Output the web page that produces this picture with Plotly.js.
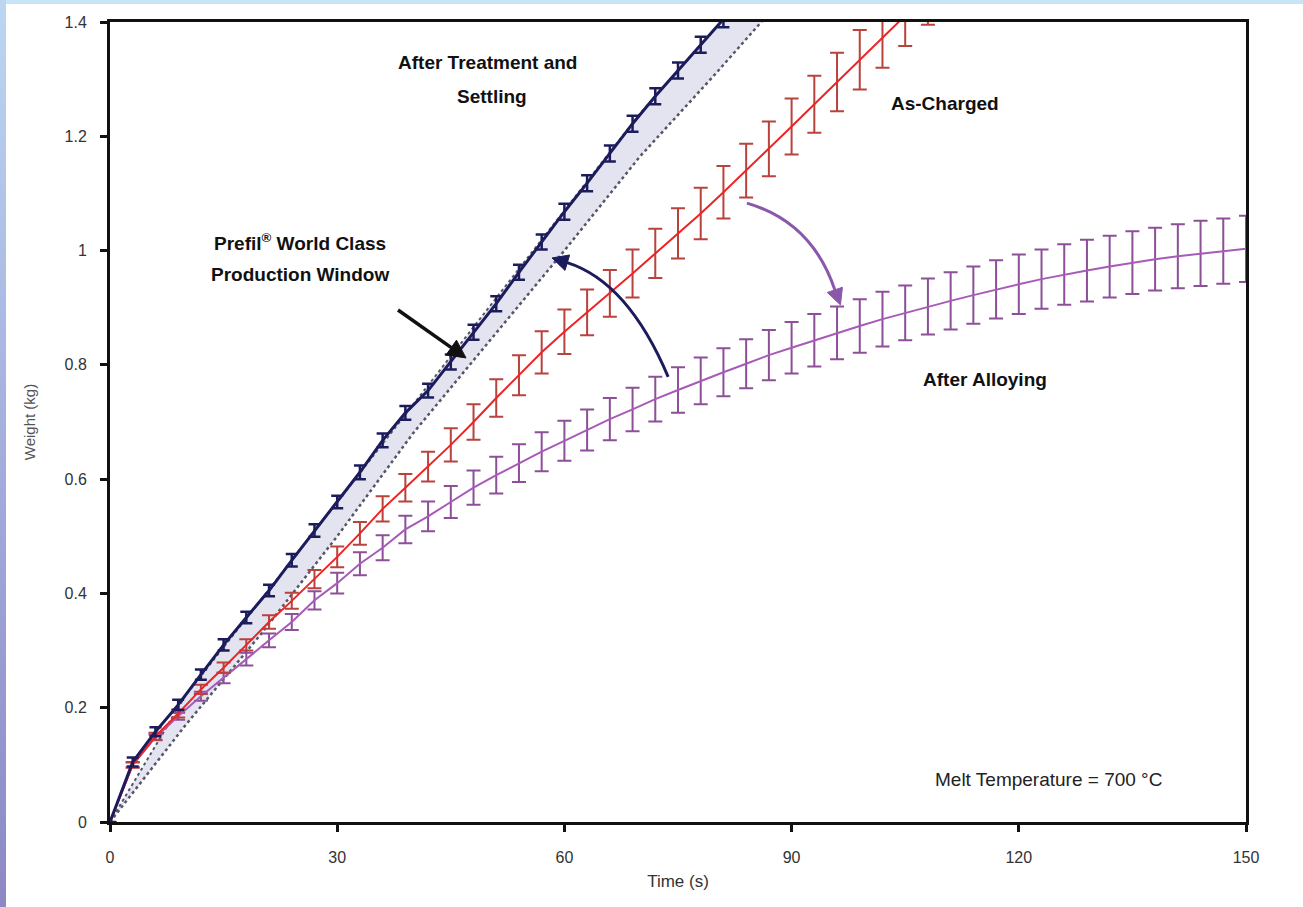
<!DOCTYPE html>
<html>
<head>
<meta charset="utf-8">
<script src="https://cdn.plot.ly/plotly-3.0.1.min.js"></script>
<style>
  html, body { margin: 0; padding: 0; background: #ffffff; }
  #chart { width: 1303px; height: 907px; }
  #topStrip { position: absolute; left: 0; top: 0; width: 1303px; height: 4px; background: #c9e3f7; pointer-events: none; }
  #leftStrip { position: absolute; left: 0; top: 0; width: 6px; height: 907px; background: linear-gradient(#bcd6f2, #9fa6d8 60%, #8c88c4); pointer-events: none; }
</style>
</head>
<body>
<div id="chart"></div>
<div id="topStrip"></div>
<div id="leftStrip"></div>
<script>
// Time (s) sample points
const timeS = [0,3,6,9,12,15,18,21,24,27,30,33,36,39,42,45,48,51,54,57,60,63,66,69,72,75,78,81,84,87,90,93,96,99,102,105,108,111,114,117,120,123,126,129,132,135,138,141,144,147,150];

// After Treatment and Settling (kg)
const settledW = [0,0.105,0.158,0.205,0.258,0.31,0.358,0.405,0.458,0.51,0.56,0.612,0.668,0.716,0.755,0.805,0.857,0.907,0.962,1.015,1.068,1.118,1.17,1.222,1.27,1.315,1.36,1.405];
const settledErr = [0,0.008,0.008,0.009,0.009,0.01,0.01,0.01,0.011,0.011,0.011,0.012,0.012,0.012,0.012,0.013,0.013,0.013,0.013,0.013,0.014,0.014,0.014,0.014,0.014,0.014,0.014,0.014];

// As-Charged (kg)
const chargedW = [0,0.1,0.15,0.19,0.232,0.27,0.31,0.35,0.387,0.425,0.464,0.505,0.548,0.585,0.622,0.66,0.7,0.742,0.782,0.822,0.858,0.892,0.925,0.96,0.995,1.03,1.065,1.102,1.14,1.178,1.217,1.256,1.295,1.334,1.373,1.412,1.45];
const chargedErr = [0,0.005,0.006,0.007,0.008,0.009,0.01,0.012,0.014,0.016,0.018,0.02,0.022,0.024,0.026,0.029,0.031,0.033,0.035,0.037,0.039,0.04,0.041,0.042,0.043,0.044,0.045,0.046,0.047,0.048,0.049,0.05,0.051,0.052,0.053,0.054,0.055];

// After Alloying (kg)
const alloyedW = [0,0.1,0.148,0.185,0.22,0.252,0.285,0.318,0.35,0.388,0.418,0.452,0.48,0.512,0.535,0.56,0.585,0.607,0.628,0.648,0.667,0.686,0.705,0.722,0.74,0.756,0.772,0.787,0.802,0.817,0.83,0.843,0.856,0.868,0.88,0.891,0.902,0.912,0.922,0.932,0.941,0.95,0.958,0.965,0.972,0.979,0.985,0.99,0.995,0.999,1.003];
const alloyedErr = [0,0.004,0.005,0.006,0.008,0.009,0.011,0.012,0.014,0.016,0.018,0.02,0.022,0.024,0.026,0.028,0.03,0.032,0.033,0.034,0.035,0.036,0.037,0.038,0.039,0.04,0.041,0.042,0.043,0.044,0.045,0.046,0.046,0.047,0.048,0.048,0.049,0.05,0.05,0.051,0.052,0.052,0.053,0.054,0.054,0.055,0.055,0.056,0.057,0.057,0.058];

// Prefil World Class production window bounds
const windowT = [0,10,20,30,40,50,60,70,80,88];
const windowUpper = [0,0.222,0.39,0.56,0.73,0.9,1.068,1.24,1.39,1.52];
const windowLower = [0,0.17,0.33,0.5,0.68,0.84,1.0,1.165,1.31,1.43];

// Axis ticks
const yTicks = [0,0.2,0.4,0.6,0.8,1,1.2,1.4];
const xTicks = [0,30,60,90,120,150];

const navy = '#1c1c5c';
const red = '#ec2424';
const redBar = '#b8423c';
const purple = '#a85ab8';
const purpleBar = '#8c4f98';
const arrowPurple = '#8a58aa';

const traces = [
  { x: windowT, y: windowUpper, mode: 'lines', line: {color: '#555566', width: 2, dash: 'dot'}, hoverinfo: 'skip', showlegend: false },
  { x: windowT, y: windowLower, mode: 'lines', fill: 'tonexty', fillcolor: 'rgba(200,202,226,0.5)', line: {color: '#555566', width: 2.5, dash: 'dot'}, hoverinfo: 'skip', showlegend: false },
  { x: timeS.slice(0, alloyedW.length), y: alloyedW, mode: 'lines', line: {color: purple, width: 2},
    error_y: {type: 'data', array: alloyedErr, visible: true, color: purpleBar, thickness: 2, width: 7}, showlegend: false },
  { x: timeS.slice(0, chargedW.length), y: chargedW, mode: 'lines', line: {color: red, width: 2},
    error_y: {type: 'data', array: chargedErr, visible: true, color: redBar, thickness: 2, width: 7}, showlegend: false },
  { x: timeS.slice(0, settledW.length), y: settledW, mode: 'lines', line: {color: navy, width: 3},
    error_y: {type: 'data', array: settledErr, visible: true, color: navy, thickness: 2.5, width: 6}, showlegend: false }
];

const txtFont = {family: 'Liberation Sans, Arial, sans-serif', size: 19, color: '#111'};
const boldTxt = (s) => '<b>' + s + '</b>';

const annotations = [
  {x: 49.8, y: 1.330, xref: 'x', yref: 'y', text: boldTxt('After Treatment and'), showarrow: false, font: txtFont},
  {x: 50.4, y: 1.269, xref: 'x', yref: 'y', text: boldTxt('Settling'), showarrow: false, font: txtFont},
  {x: 110.3, y: 1.257, xref: 'x', yref: 'y', text: boldTxt('As-Charged'), showarrow: false, font: txtFont},
  {x: 25.1, y: 1.015, xref: 'x', yref: 'y', text: boldTxt('Prefil<sup>®</sup> World Class'), showarrow: false, font: txtFont},
  {x: 25.1, y: 0.959, xref: 'x', yref: 'y', text: boldTxt('Production Window'), showarrow: false, font: txtFont},
  {x: 115.5, y: 0.774, xref: 'x', yref: 'y', text: boldTxt('After Alloying'), showarrow: false, font: txtFont},
  {x: 123.9, y: 0.075, xref: 'x', yref: 'y', text: 'Melt Temperature = 700 °C', showarrow: false,
   font: {family: 'Liberation Sans, Arial, sans-serif', size: 19, color: '#222'}}
];

const shapes = [
  // black straight arrow
  {type: 'path', xref: 'x', yref: 'y', path: 'M 38.03,0.896 L 45.07,0.8302', line: {color: '#111', width: 3.5}},
  {type: 'path', xref: 'x', yref: 'y', path: 'M 47.01,0.8121 L 45.75,0.8432 L 44.38,0.8174 Z', fillcolor: '#111', line: {color: '#111', width: 1}},
  // navy curved arrow
  {type: 'path', xref: 'x', yref: 'y', path: 'M 73.7,0.779 Q 68.4,0.945 60.37,0.9788', line: {color: navy, width: 3}},
  {type: 'path', xref: 'x', yref: 'y', path: 'M 58.37,0.9871 L 60.69,0.9923 L 60.08,0.9653 Z', fillcolor: navy, line: {color: navy, width: 1}},
  // purple curved arrow
  {type: 'path', xref: 'x', yref: 'y', path: 'M 84.1,1.083 Q 92.7,1.05 95.71,0.9312', line: {color: arrowPurple, width: 3}},
  {type: 'path', xref: 'x', yref: 'y', path: 'M 96.45,0.9049 L 96.71,0.9358 L 94.71,0.9267 Z', fillcolor: arrowPurple, line: {color: arrowPurple, width: 1}}
];

const axisFont = {family: 'Liberation Sans, Arial, sans-serif', size: 16, color: '#333'};

const layout = {
  width: 1303, height: 907,
  margin: {l: 110, r: 57, t: 22, b: 85},
  paper_bgcolor: '#ffffff', plot_bgcolor: '#ffffff',
  showlegend: false,
  font: {family: 'Liberation Sans, Arial, sans-serif', color: '#333'},
  xaxis: {
    range: [0, 150], tickvals: xTicks, showgrid: false, zeroline: false,
    showline: true, linecolor: '#111', linewidth: 3, mirror: true,
    ticks: 'outside', ticklen: 7, tickwidth: 3, tickcolor: '#111',
    tickfont: axisFont, ticklabelstandoff: 12,
    title: {text: 'Time (s)', font: {family: 'Liberation Sans, Arial, sans-serif', size: 17, color: '#333'}, standoff: 10}
  },
  yaxis: {
    range: [0, 1.4], tickvals: yTicks, showgrid: false, zeroline: false,
    showline: true, linecolor: '#111', linewidth: 3, mirror: true,
    ticks: 'outside', ticklen: 7, tickwidth: 3, tickcolor: '#111',
    tickfont: axisFont, ticklabelstandoff: 10,
    title: {text: 'Weight (kg)', font: {family: 'Liberation Sans, Arial, sans-serif', size: 15, color: '#555'}, standoff: 26}
  },
  annotations: annotations,
  shapes: shapes
};

Plotly.newPlot('chart', traces, layout, {staticPlot: true, displayModeBar: false});
</script>
</body>
</html>
